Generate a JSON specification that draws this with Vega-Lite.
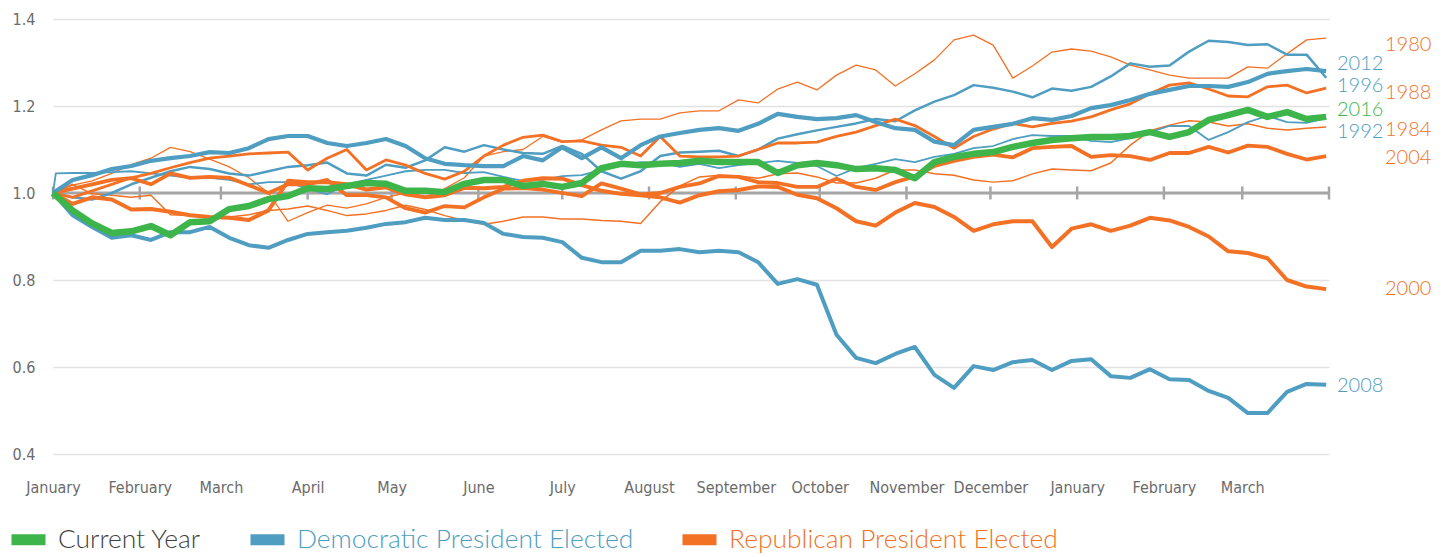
{
  "$schema": "https://vega.github.io/schema/vega-lite/v6.json",
  "width": 1276,
  "height": 435,
  "autosize": {"type": "none"},
  "padding": {"left": 53, "top": 19, "right": 119, "bottom": 103},
  "background": "white",
  "config": {"view": {"stroke": null}},
  "datasets": {
    "weekly": [
      {"date":"2016-01-01","1980":1,"1984":1,"1988":1,"1992":1,"1996":1,"2000":1,"2004":1,"2008":1,"2012":1,"2016":1},
      {"date":"2016-01-02","1992":1.045},
      {"date":"2016-01-08","1980":1.018,"1984":1.020,"1988":0.990,"1992":1.046,"1996":0.990,"2000":0.975,"2004":1.010,"2008":0.949,"2012":1.030,"2016":0.960},
      {"date":"2016-01-15","1980":1.028,"1984":0.998,"1988":1.005,"1992":1.046,"1996":0.985,"2000":0.990,"2004":1.020,"2008":0.922,"2012":1.041,"2016":0.930},
      {"date":"2016-01-22","1980":1.045,"1984":0.995,"1988":1.020,"1992":1.048,"1996":1.000,"2000":0.985,"2004":1.030,"2008":0.897,"2012":1.055,"2016":0.908},
      {"date":"2016-01-29","1980":1.065,"1984":0.990,"1988":1.035,"1992":1.050,"1996":1.020,"2000":0.962,"2004":1.034,"2008":0.903,"2012":1.062,"2016":0.912},
      {"date":"2016-02-05","1980":1.080,"1984":0.995,"1988":1.045,"1992":1.045,"1996":1.035,"2000":0.963,"2004":1.020,"2008":0.892,"2012":1.074,"2016":0.924},
      {"date":"2016-02-12","1980":1.105,"1984":0.950,"1988":1.058,"1992":1.040,"1996":1.050,"2000":0.957,"2004":1.045,"2008":0.910,"2012":1.080,"2016":0.903},
      {"date":"2016-02-19","1980":1.095,"1984":0.948,"1988":1.070,"1992":1.035,"1996":1.060,"2000":0.949,"2004":1.035,"2008":0.910,"2012":1.085,"2016":0.933},
      {"date":"2016-02-26","1980":1.078,"1984":0.945,"1988":1.080,"1992":1.035,"1996":1.055,"2000":0.945,"2004":1.037,"2008":0.922,"2012":1.094,"2016":0.935},
      {"date":"2016-03-04","1980":1.060,"1984":0.945,"1988":1.085,"1992":1.030,"1996":1.045,"2000":0.943,"2004":1.035,"2008":0.897,"2012":1.092,"2016":0.963},
      {"date":"2016-03-11","1980":1.035,"1984":0.950,"1988":1.090,"1992":1.020,"1996":1.040,"2000":0.938,"2004":1.018,"2008":0.880,"2012":1.103,"2016":0.970},
      {"date":"2016-03-18","1980":1.000,"1984":0.960,"1988":1.092,"1992":1.025,"1996":1.050,"2000":0.960,"2004":1.000,"2008":0.874,"2012":1.124,"2016":0.986},
      {"date":"2016-03-25","1980":0.935,"1984":0.963,"1988":1.094,"1992":1.025,"1996":1.060,"2000":1.028,"2004":1.020,"2008":0.892,"2012":1.131,"2016":0.993},
      {"date":"2016-04-01","1980":0.955,"1984":0.970,"1988":1.053,"1992":1.010,"1996":1.064,"2000":1.025,"2004":1.020,"2008":0.906,"2012":1.131,"2016":1.011},
      {"date":"2016-04-08","1980":0.972,"1984":0.960,"1988":1.080,"1992":0.997,"1996":1.070,"2000":1.025,"2004":1.030,"2008":0.910,"2012":1.115,"2016":1.009},
      {"date":"2016-04-15","1980":0.965,"1984":0.948,"1988":1.100,"1992":1.020,"1996":1.045,"2000":1.020,"2004":0.995,"2008":0.913,"2012":1.108,"2016":1.016},
      {"date":"2016-04-22","1980":0.975,"1984":0.952,"1988":1.053,"1992":1.030,"1996":1.040,"2000":1.008,"2004":0.995,"2008":0.920,"2012":1.115,"2016":1.023},
      {"date":"2016-04-29","1980":0.990,"1984":0.960,"1988":1.076,"1992":1.040,"1996":1.065,"2000":1.013,"2004":0.990,"2008":0.929,"2012":1.124,"2016":1.021},
      {"date":"2016-05-06","1980":1.000,"1984":0.972,"1988":1.064,"1992":1.050,"1996":1.058,"2000":0.997,"2004":0.965,"2008":0.933,"2012":1.108,"2016":1.005},
      {"date":"2016-05-13","1980":0.990,"1984":0.962,"1988":1.045,"1992":1.053,"1996":1.075,"2000":0.990,"2004":0.955,"2008":0.943,"2012":1.080,"2016":1.005},
      {"date":"2016-05-20","1980":1.010,"1984":0.948,"1988":1.032,"1992":1.053,"1996":1.105,"2000":0.995,"2004":0.970,"2008":0.938,"2012":1.067,"2016":1.002},
      {"date":"2016-05-27","1980":1.035,"1984":0.937,"1988":1.050,"1992":1.046,"1996":1.095,"2000":1.012,"2004":0.967,"2008":0.938,"2012":1.064,"2016":1.021},
      {"date":"2016-06-03","1980":1.085,"1984":0.928,"1988":1.085,"1992":1.048,"1996":1.110,"2000":1.011,"2004":0.990,"2008":0.931,"2012":1.062,"2016":1.030},
      {"date":"2016-06-10","1980":1.095,"1984":0.935,"1988":1.110,"1992":1.037,"1996":1.100,"2000":1.014,"2004":1.010,"2008":0.906,"2012":1.062,"2016":1.030},
      {"date":"2016-06-17","1980":1.100,"1984":0.945,"1988":1.128,"1992":1.028,"1996":1.092,"2000":1.028,"2004":1.011,"2008":0.899,"2012":1.085,"2016":1.016},
      {"date":"2016-06-24","1980":1.130,"1984":0.945,"1988":1.133,"1992":1.030,"1996":1.090,"2000":1.034,"2004":1.008,"2008":0.897,"2012":1.075,"2016":1.021},
      {"date":"2016-07-01","1980":1.117,"1984":0.940,"1988":1.118,"1992":1.039,"1996":1.108,"2000":1.033,"2004":1.000,"2008":0.887,"2012":1.105,"2016":1.014},
      {"date":"2016-07-08","1980":1.122,"1984":0.940,"1988":1.120,"1992":1.041,"1996":1.090,"2000":1.018,"2004":0.993,"2008":0.851,"2012":1.080,"2016":1.023},
      {"date":"2016-07-15","1980":1.145,"1984":0.937,"1988":1.110,"1992":1.053,"1996":1.050,"2000":1.005,"2004":1.022,"2008":0.841,"2012":1.105,"2016":1.057},
      {"date":"2016-07-22","1980":1.166,"1984":0.935,"1988":1.105,"1992":1.064,"1996":1.033,"2000":0.998,"2004":1.010,"2008":0.841,"2012":1.080,"2016":1.067},
      {"date":"2016-07-29","1980":1.170,"1984":0.930,"1988":1.085,"1992":1.071,"1996":1.050,"2000":0.995,"2004":0.997,"2008":0.867,"2012":1.110,"2016":1.064},
      {"date":"2016-08-05","1980":1.170,"1984":0.980,"1988":1.130,"1992":1.069,"1996":1.085,"2000":0.990,"2004":1.000,"2008":0.867,"2012":1.130,"2016":1.067},
      {"date":"2016-08-12","1980":1.184,"1984":1.016,"1988":1.085,"1992":1.060,"1996":1.093,"2000":0.978,"2004":1.014,"2008":0.871,"2012":1.138,"2016":1.069},
      {"date":"2016-08-19","1980":1.189,"1984":1.037,"1988":1.083,"1992":1.067,"1996":1.095,"2000":0.995,"2004":1.022,"2008":0.864,"2012":1.145,"2016":1.074},
      {"date":"2016-08-26","1980":1.189,"1984":1.041,"1988":1.083,"1992":1.057,"1996":1.097,"2000":1.004,"2004":1.039,"2008":0.867,"2012":1.149,"2016":1.071},
      {"date":"2016-09-02","1980":1.214,"1984":1.039,"1988":1.085,"1992":1.064,"1996":1.085,"2000":1.007,"2004":1.037,"2008":0.864,"2012":1.143,"2016":1.071},
      {"date":"2016-09-09","1980":1.207,"1984":1.034,"1988":1.100,"1992":1.069,"1996":1.100,"2000":1.015,"2004":1.025,"2008":0.841,"2012":1.159,"2016":1.071},
      {"date":"2016-09-16","1980":1.239,"1984":1.044,"1988":1.115,"1992":1.074,"1996":1.125,"2000":1.014,"2004":1.023,"2008":0.791,"2012":1.182,"2016":1.046},
      {"date":"2016-09-23","1980":1.255,"1984":1.046,"1988":1.115,"1992":1.069,"1996":1.135,"2000":0.996,"2004":1.014,"2008":0.802,"2012":1.175,"2016":1.064},
      {"date":"2016-09-30","1980":1.237,"1984":1.037,"1988":1.117,"1992":1.062,"1996":1.144,"2000":0.988,"2004":1.014,"2008":0.789,"2012":1.170,"2016":1.069},
      {"date":"2016-10-07","1980":1.271,"1984":1.023,"1988":1.130,"1992":1.039,"1996":1.152,"2000":0.965,"2004":1.033,"2008":0.674,"2012":1.172,"2016":1.064},
      {"date":"2016-10-14","1980":1.294,"1984":1.023,"1988":1.140,"1992":1.057,"1996":1.160,"2000":0.935,"2004":1.014,"2008":0.621,"2012":1.179,"2016":1.055},
      {"date":"2016-10-21","1980":1.283,"1984":1.034,"1988":1.155,"1992":1.067,"1996":1.170,"2000":0.925,"2004":1.007,"2008":0.609,"2012":1.163,"2016":1.057},
      {"date":"2016-10-28","1980":1.246,"1984":1.053,"1988":1.170,"1992":1.078,"1996":1.165,"2000":0.955,"2004":1.025,"2008":0.630,"2012":1.149,"2016":1.053},
      {"date":"2016-11-04","1980":1.274,"1984":1.053,"1988":1.155,"1992":1.071,"1996":1.190,"2000":0.977,"2004":1.038,"2008":0.646,"2012":1.145,"2016":1.034},
      {"date":"2016-11-11","1980":1.306,"1984":1.044,"1988":1.130,"1992":1.083,"1996":1.210,"2000":0.968,"2004":1.062,"2008":0.582,"2012":1.118,"2016":1.071},
      {"date":"2016-11-18","1980":1.352,"1984":1.041,"1988":1.103,"1992":1.090,"1996":1.225,"2000":0.945,"2004":1.074,"2008":0.552,"2012":1.110,"2016":1.083},
      {"date":"2016-11-25","1980":1.363,"1984":1.030,"1988":1.130,"1992":1.103,"1996":1.248,"2000":0.913,"2004":1.083,"2008":0.602,"2012":1.145,"2016":1.090},
      {"date":"2016-12-02","1980":1.340,"1984":1.025,"1988":1.147,"1992":1.108,"1996":1.242,"2000":0.928,"2004":1.088,"2008":0.593,"2012":1.152,"2016":1.094},
      {"date":"2016-12-09","1980":1.264,"1984":1.028,"1988":1.160,"1992":1.124,"1996":1.233,"2000":0.935,"2004":1.082,"2008":0.611,"2012":1.159,"2016":1.106},
      {"date":"2016-12-16","1980":1.292,"1984":1.044,"1988":1.152,"1992":1.133,"1996":1.220,"2000":0.935,"2004":1.103,"2008":0.616,"2012":1.172,"2016":1.115},
      {"date":"2016-12-23","1980":1.324,"1984":1.055,"1988":1.160,"1992":1.131,"1996":1.240,"2000":0.876,"2004":1.106,"2008":0.593,"2012":1.168,"2016":1.122},
      {"date":"2016-12-30","1980":1.331,"1984":1.053,"1988":1.165,"1992":1.131,"1996":1.235,"2000":0.918,"2004":1.108,"2008":0.614,"2012":1.177,"2016":1.126},
      {"date":"2017-01-06","1980":1.326,"1984":1.051,"1988":1.175,"1992":1.120,"1996":1.244,"2000":0.928,"2004":1.083,"2008":0.618,"2012":1.195,"2016":1.129},
      {"date":"2017-01-13","1980":1.313,"1984":1.069,"1988":1.191,"1992":1.117,"1996":1.268,"2000":0.913,"2004":1.087,"2008":0.579,"2012":1.202,"2016":1.129},
      {"date":"2017-01-20","1980":1.294,"1984":1.110,"1988":1.205,"1992":1.126,"1996":1.298,"2000":0.925,"2004":1.085,"2008":0.575,"2012":1.214,"2016":1.131},
      {"date":"2017-01-27","1980":1.283,"1984":1.143,"1988":1.228,"1992":1.140,"1996":1.290,"2000":0.943,"2004":1.076,"2008":0.595,"2012":1.228,"2016":1.140},
      {"date":"2017-02-03","1980":1.271,"1984":1.156,"1988":1.248,"1992":1.154,"1996":1.293,"2000":0.937,"2004":1.092,"2008":0.572,"2012":1.237,"2016":1.129},
      {"date":"2017-02-10","1980":1.264,"1984":1.166,"1988":1.253,"1992":1.154,"1996":1.325,"2000":0.922,"2004":1.092,"2008":0.570,"2012":1.246,"2016":1.140},
      {"date":"2017-02-17","1980":1.264,"1984":1.163,"1988":1.239,"1992":1.122,"1996":1.350,"2000":0.900,"2004":1.106,"2008":0.545,"2012":1.246,"2016":1.168},
      {"date":"2017-02-24","1980":1.264,"1984":1.154,"1988":1.223,"1992":1.140,"1996":1.347,"2000":0.866,"2004":1.093,"2008":0.529,"2012":1.244,"2016":1.179},
      {"date":"2017-03-03","1980":1.290,"1984":1.159,"1988":1.221,"1992":1.163,"1996":1.340,"2000":0.862,"2004":1.109,"2008":0.494,"2012":1.255,"2016":1.191},
      {"date":"2017-03-10","1980":1.287,"1984":1.149,"1988":1.244,"1992":1.177,"1996":1.342,"2000":0.850,"2004":1.106,"2008":0.494,"2012":1.274,"2016":1.175},
      {"date":"2017-03-17","1980":1.320,"1984":1.145,"1988":1.248,"1992":1.163,"1996":1.318,"2000":0.800,"2004":1.090,"2008":0.543,"2012":1.280,"2016":1.186},
      {"date":"2017-03-24","1980":1.352,"1984":1.149,"1988":1.230,"1992":1.161,"1996":1.318,"2000":0.785,"2004":1.077,"2008":0.561,"2012":1.285,"2016":1.170},
      {"date":"2017-03-31","1980":1.356,"1984":1.152,"1988":1.241,"1992":1.172,"1996":1.265,"2000":0.779,"2004":1.085,"2008":0.559,"2012":1.280,"2016":1.175}
    ],
    "months": [
      {"date":"2016-01-01","value":1},{"date":"2016-02-01","value":1},{"date":"2016-03-01","value":1},{"date":"2016-04-01","value":1},
      {"date":"2016-05-01","value":1},{"date":"2016-06-01","value":1},{"date":"2016-07-01","value":1},{"date":"2016-08-01","value":1},
      {"date":"2016-09-01","value":1},{"date":"2016-10-01","value":1},{"date":"2016-11-01","value":1},{"date":"2016-12-01","value":1},
      {"date":"2017-01-01","value":1},{"date":"2017-02-01","value":1},{"date":"2017-03-01","value":1},{"date":"2017-04-01","value":1}
    ]
  },
  "encoding": {
    "x": {
      "field": "date", "type": "temporal",
      "scale": {"type": "utc", "domain": [{"year": 2016, "month": 1, "date": 1, "utc": true}, {"year": 2017, "month": 4, "date": 1, "utc": true}]},
      "axis": {
        "values": [
          {"year": 2016, "month": 1, "date": 1, "utc": true}, {"year": 2016, "month": 2, "date": 1, "utc": true},
          {"year": 2016, "month": 3, "date": 1, "utc": true}, {"year": 2016, "month": 4, "date": 1, "utc": true},
          {"year": 2016, "month": 5, "date": 1, "utc": true}, {"year": 2016, "month": 6, "date": 1, "utc": true},
          {"year": 2016, "month": 7, "date": 1, "utc": true}, {"year": 2016, "month": 8, "date": 1, "utc": true},
          {"year": 2016, "month": 9, "date": 1, "utc": true}, {"year": 2016, "month": 10, "date": 1, "utc": true},
          {"year": 2016, "month": 11, "date": 1, "utc": true}, {"year": 2016, "month": 12, "date": 1, "utc": true},
          {"year": 2017, "month": 1, "date": 1, "utc": true}, {"year": 2017, "month": 2, "date": 1, "utc": true},
          {"year": 2017, "month": 3, "date": 1, "utc": true}
        ],
        "labelExpr": "utcFormat(datum.value, '%B')",
        "title": null, "domain": false, "ticks": false, "tickSize": 0, "grid": false,
        "labelFont": "DejaVu Sans Condensed, Liberation Sans, sans-serif", "labelFontSize": 16, "labelColor": "#6b6b6b",
        "labelPadding": 25, "labelBaseline": "top", "labelAlign": "center", "labelOverlap": false, "labelFlush": false
      }
    },
    "y": {
      "field": "value", "type": "quantitative",
      "scale": {"domain": [0.4, 1.4], "nice": false, "zero": false},
      "axis": {
        "values": [0.4, 0.6, 0.8, 1.0, 1.2, 1.4], "format": ".1f", "title": null, "domain": false, "ticks": false, "tickSize": 0,
        "grid": true, "gridColor": "#e2e2e2", "gridWidth": 1.5,
        "labelFont": "DejaVu Sans Condensed, Liberation Sans, sans-serif", "labelFontSize": 16, "labelColor": "#6b6b6b", "labelPadding": 18
      }
    }
  },
  "layer": [
    {
      "data": {"name": "months"},
      "mark": {"type": "line", "color": "#a6a6a6", "strokeWidth": 3},
      "encoding": {}
    },
    {
      "data": {"name": "months"},
      "mark": {"type": "tick", "orient": "vertical", "color": "#a6a6a6", "size": 13, "thickness": 2.5, "opacity": 1},
      "encoding": {}
    },
    {
      "data": {"name": "weekly"},
      "transform": [
        {"fold": ["1980", "1984", "1992", "1996", "1988", "2004", "2000", "2012", "2008"], "as": ["year", "value"]},
        {"filter": {"field": "value", "valid": true}},
        {"lookup": "year", "from": {"data": {"values": [
          {"year": "1980", "party": "Republican President Elected"},
          {"year": "1984", "party": "Republican President Elected"},
          {"year": "1988", "party": "Republican President Elected"},
          {"year": "2000", "party": "Republican President Elected"},
          {"year": "2004", "party": "Republican President Elected"},
          {"year": "1992", "party": "Democratic President Elected"},
          {"year": "1996", "party": "Democratic President Elected"},
          {"year": "2008", "party": "Democratic President Elected"},
          {"year": "2012", "party": "Democratic President Elected"}
        ]}, "key": "year", "fields": ["party"]}}
      ],
      "mark": {"type": "line", "strokeJoin": "round"},
      "encoding": {
        "color": {
          "field": "party", "type": "nominal",
          "scale": {"domain": ["Current Year", "Democratic President Elected", "Republican President Elected"], "range": ["#3DB54A", "#4F9DC1", "#F37124"]},
          "legend": {
            "title": null, "orient": "none", "legendX": -47, "legendY": 498, "direction": "horizontal",
            "symbolType": "M-1,0L1,0", "symbolSize": 1156, "symbolStrokeWidth": 11, "symbolOpacity": 1,
            "labelFont": "Lato", "labelFontSize": 26.4, "labelFontWeight": 300, "labelOffset": 7, "labelLimit": 600,
            "columnPadding": 26,
            "encode": {"labels": {"update": {"fill": {"signal": "datum.label === 'Current Year' ? '#3f3f3f' : scale('color', datum.value)"}}}}
          }
        },
        "strokeWidth": {
          "field": "year", "type": "nominal",
          "scale": {"type": "ordinal", "domain": ["1980", "1984", "1992", "1996", "1988", "2004", "2000", "2012", "2008"], "range": [1.3, 1.5, 1.8, 2.5, 2.8, 3.8, 4, 4.2, 4]},
          "legend": null
        }
      }
    },
    {
      "data": {"name": "weekly"},
      "transform": [
        {"fold": ["2016"], "as": ["year", "value"]},
        {"filter": {"field": "value", "valid": true}}
      ],
      "mark": {"type": "line", "color": "#3DB54A", "strokeWidth": 6.5, "strokeJoin": "round"},
      "encoding": {}
    },
    {
      "data": {"values": [
        {"date": "2017-04-01", "value": 1.297, "year": "2012", "party": "Democratic President Elected"},
        {"date": "2017-04-01", "value": 1.246, "year": "1996", "party": "Democratic President Elected"},
        {"date": "2017-04-01", "value": 1.191, "year": "2016", "party": "Current Year"},
        {"date": "2017-04-01", "value": 1.140, "year": "1992", "party": "Democratic President Elected"},
        {"date": "2017-04-01", "value": 0.556, "year": "2008", "party": "Democratic President Elected"}
      ]},
      "mark": {"type": "text", "align": "left", "baseline": "middle", "dx": 8, "font": "Lato", "fontSize": 20, "fontWeight": 300},
      "encoding": {
        "text": {"field": "year"},
        "color": {"field": "party", "type": "nominal", "legend": null}
      }
    },
    {
      "data": {"values": [
        {"date": "2017-04-01", "value": 1.340, "year": "1980", "party": "Republican President Elected"},
        {"date": "2017-04-01", "value": 1.230, "year": "1988", "party": "Republican President Elected"},
        {"date": "2017-04-01", "value": 1.145, "year": "1984", "party": "Republican President Elected"},
        {"date": "2017-04-01", "value": 1.080, "year": "2004", "party": "Republican President Elected"},
        {"date": "2017-04-01", "value": 0.779, "year": "2000", "party": "Republican President Elected"}
      ]},
      "mark": {"type": "text", "align": "left", "baseline": "middle", "dx": 56, "font": "Lato", "fontSize": 20, "fontWeight": 300},
      "encoding": {
        "text": {"field": "year"},
        "color": {"field": "party", "type": "nominal", "legend": null}
      }
    }
  ]
}
